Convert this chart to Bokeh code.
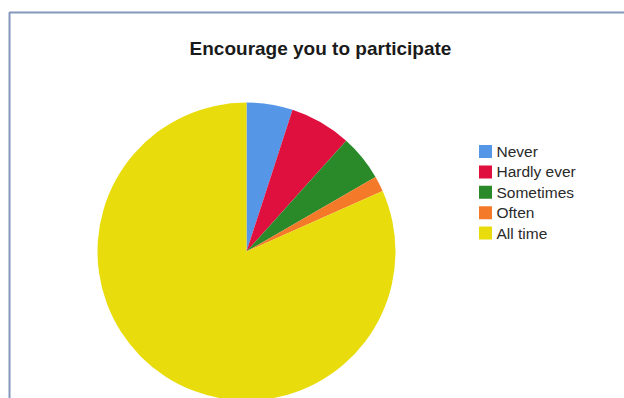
import math
from bokeh.plotting import figure
from bokeh.models import ColumnDataSource, BoxAnnotation
from bokeh.core.properties import value
from bokeh.embed import file_html
from bokeh.resources import INLINE

# ---- data ----
labels = ["Never", "Hardly ever", "Sometimes", "Often", "All time"]
counts = [3, 4, 3, 1, 49]
colors = ["#5596e6", "#e0103e", "#2a8a2a", "#f47a2a", "#e8dc0c"]
title_text = "Encourage you to participate"

W, H = 624, 398

p = figure(width=W, height=H, x_range=(0, W), y_range=(0, H),
           output_backend="svg", toolbar_location=None, min_border=0)
p.axis.visible = False
p.grid.visible = False
p.outline_line_color = None
p.background_fill_color = "white"
p.border_fill_color = "white"

# wedges, clockwise from 12 o'clock
total = float(sum(counts))
starts, ends = [], []
cum = 0.0
for c in counts:
    a0 = math.pi / 2 - 2 * math.pi * cum / total
    cum += c
    a1 = math.pi / 2 - 2 * math.pi * cum / total
    starts.append(a1)
    ends.append(a0)

cx, cy, r = 246, H - 251, 149
src = ColumnDataSource(dict(start=starts, end=ends, color=colors, label=labels))
p.wedge(x=cx, y=cy, radius=r, start_angle="start", end_angle="end",
        direction="anticlock", fill_color="color", line_color=None, source=src)

# legend (manual)
lx, ly0, lstep = 485, H - 151, 20.4
leg = ColumnDataSource(dict(
    x=[lx] * len(labels),
    y=[ly0 - i * lstep for i in range(len(labels))],
    tx=[lx + 11] * len(labels),
    color=colors, label=labels))
p.rect(x="x", y="y", width=13, height=13, fill_color="color", line_color=None, source=leg)
p.text(x="tx", y="y", text="label", text_font=value("Liberation Sans"),
       text_font_size="15.5px", text_color="#2a2a2a", text_baseline="middle",
       text_align="left", source=leg)

# title
p.text(x=[320], y=[H - 48], text=[title_text], text_font=value("Liberation Sans"),
       text_font_style="bold", text_font_size="19px", text_color="#1a1a1a",
       text_align="center", text_baseline="middle")

# border of the chart box
p.add_layout(BoxAnnotation(left=9, right=W + 10, top=H - 12, bottom=-10,
                           fill_alpha=0, line_color="#8497bd", line_alpha=1.0,
                           line_width=2))

open("out.html", "w").write(file_html(p, INLINE))
